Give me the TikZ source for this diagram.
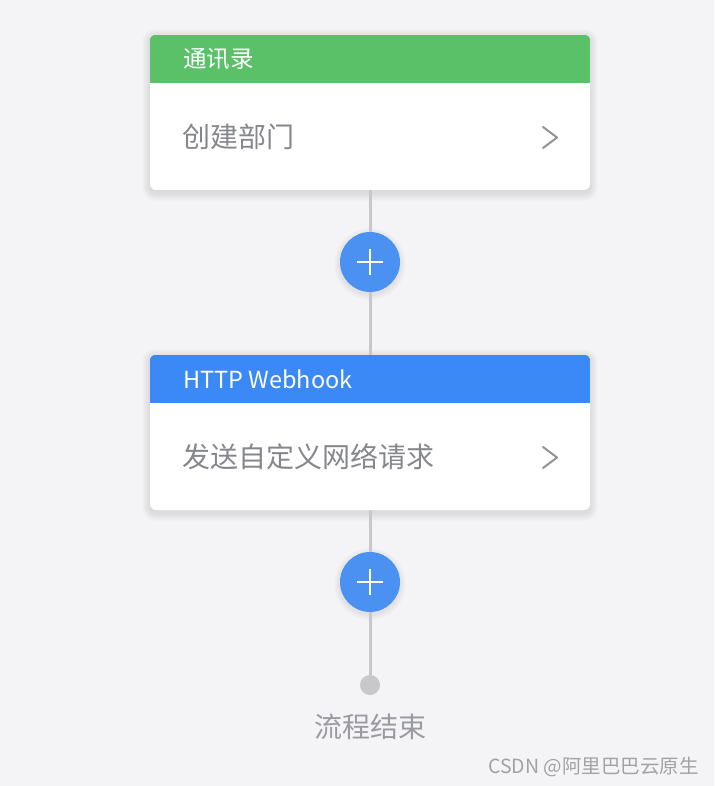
\documentclass[tikz,border=0pt]{standalone}
\usepackage{fontspec}
\setmainfont{Noto Sans CJK SC}
\newfontfamily\cjk{Noto Sans CJK SC}
\definecolor{bgc}{HTML}{F4F4F7}
\definecolor{hgreen}{HTML}{5AC168}
\definecolor{hblue}{HTML}{3A89F7}
\definecolor{pblue}{HTML}{4A91F2}
\definecolor{linec}{HTML}{C8C8CA}
\definecolor{txtc}{HTML}{85878C}
\definecolor{endc}{HTML}{9A9BA0}
\definecolor{wmc}{HTML}{A2A2A6}
\pgfdeclarelayer{bglayer}
\pgfdeclarelayer{shlayer}
\pgfdeclarelayer{linelayer}
\pgfsetlayers{bglayer,shlayer,linelayer,main}
\tikzset{
  card/.style={draw=none, fill=white, rounded corners=6pt, minimum width=440pt, minimum height=155pt, inner sep=0pt},
  headtxt/.style={anchor=west, text=white, inner sep=0pt, font=\fontsize{23.5}{26}\selectfont},
  bodytxt/.style={anchor=west, text=txtc, inner sep=0pt, font=\fontsize{28}{30}\selectfont},
  plusbtn/.style={circle, fill=pblue, minimum size=60pt, inner sep=0pt},
  conn/.style={draw=linec, line width=3pt},
  chev/.style={draw=txtc!90, line width=2pt, line cap=round, line join=round},
  plusmark/.style={draw=white, line width=2.8pt},
  shade1/.style={fill=black, fill opacity=0.011}
}
\newcommand{\cardshadow}[1]{%
  \begin{pgfonlayer}{shlayer}
  \foreach \s in {1,2,...,8}{
    \fill[shade1, rounded corners={6pt+\s pt}] ([shift={(-\s,2-\s)}]#1.north west) rectangle ([shift={(\s,\s+3)}]#1.south east);
  }
  \end{pgfonlayer}}
\newcommand{\circshadow}[1]{%
  \begin{pgfonlayer}{shlayer}
  \foreach \s in {1,2,...,6}{
    \fill[shade1] ([yshift=-2pt]#1.center) circle ({30pt+\s pt});
  }
  \end{pgfonlayer}}
\begin{document}
\begin{tikzpicture}[x=1pt,y=-1pt]
\begin{pgfonlayer}{bglayer}
\fill[bgc] (0,0) rectangle (714,786);
\end{pgfonlayer}
\useasboundingbox (0,0) rectangle (714,786);

% card 1
\node[card] (c1) at (370,112.5) {};
\cardshadow{c1}
\begin{scope}
\clip[rounded corners=6pt] (c1.north west) rectangle (c1.south east);
\fill[hgreen] (c1.north west) rectangle ([yshift=-48pt]c1.north east);
\end{scope}
\node[headtxt] (h1) at (183,59) {通讯录};
\node[bodytxt] (b1) at (182,137) {创建部门};
\coordinate (k1) at (550,137.5);
\draw[chev] ([shift={(-7,-10.5)}]k1) -- ([shift={(7,0)}]k1) -- ([shift={(-7,10.5)}]k1);

% card 2
\node[card] (c2) at (370,432.5) {};
\cardshadow{c2}
\begin{scope}
\clip[rounded corners=6pt] (c2.north west) rectangle (c2.south east);
\fill[hblue] (c2.north west) rectangle ([yshift=-48pt]c2.north east);
\end{scope}
\node[headtxt] (h2) at (183,379) {HTTP Webhook};
\node[bodytxt] (b2) at (182,457) {发送自定义网络请求};
\coordinate (k2) at (550,457.5);
\draw[chev] ([shift={(-7,-10.5)}]k2) -- ([shift={(7,0)}]k2) -- ([shift={(-7,10.5)}]k2);

% plus buttons
\node[plusbtn] (p1) at (370,262) {};
\circshadow{p1}
\draw[plusmark] ([xshift=-13pt]p1.center) -- ([xshift=13pt]p1.center);
\draw[plusmark] ([yshift=-13pt]p1.center) -- ([yshift=13pt]p1.center);
\node[plusbtn] (p2) at (370,582) {};
\circshadow{p2}
\draw[plusmark] ([xshift=-13pt]p2.center) -- ([xshift=13pt]p2.center);
\draw[plusmark] ([yshift=-13pt]p2.center) -- ([yshift=13pt]p2.center);

% end
\node[circle, fill=linec, minimum size=20pt, inner sep=0pt] (e) at (370,685) {};
\node[text=endc, inner sep=0pt, font=\fontsize{28}{30}\selectfont] (et) at (370,727) {流程结束};

% connectors
\begin{pgfonlayer}{linelayer}
\draw[conn] (c1.south) -- (p1.center);
\draw[conn] (p1.center) -- (c2.north);
\draw[conn] (c2.south) -- (p2.center);
\draw[conn] (p2.center) -- (e.center);
\end{pgfonlayer}

% watermark
\node[anchor=east, text=wmc, inner sep=0pt, font=\fontsize{19.5}{21}\selectfont] (wm) at (699,767) {CSDN @阿里巴巴云原生};
\end{tikzpicture}
\end{document}
